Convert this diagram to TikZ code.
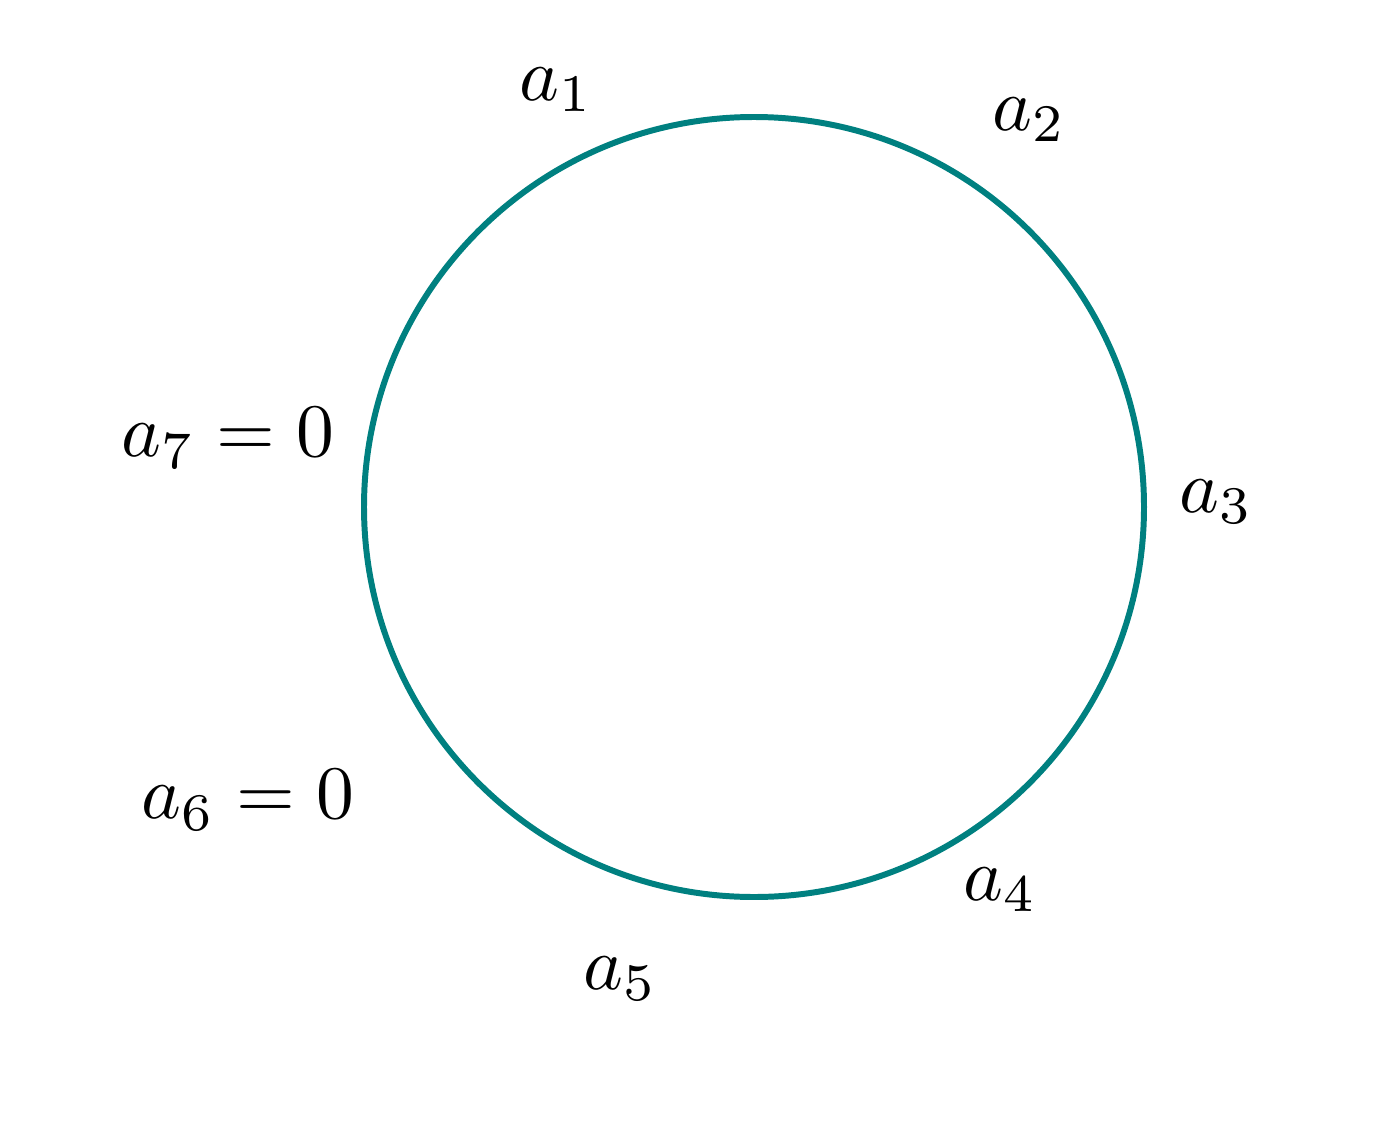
\documentclass[tikz,border=0pt]{standalone}
\usepackage{amsmath}
\definecolor{ringteal}{RGB}{0,128,128}
\begin{document}
\begin{tikzpicture}[
  lbl/.style={inner sep=0pt, scale=2.15},
  ring/.style={draw=ringteal, line width=1.7pt}
]
\useasboundingbox (0,0) rectangle (13.77,11.42);
\node[ring, circle, minimum size=7.80cm, inner sep=0pt] (c) at (7.54,6.35) {};
\node[lbl] (a1) at (5.56,10.52) {$a_1$};
\node[lbl] (a2) at (10.29,10.22) {$a_2$};
\node[lbl] (a3) at (12.16,6.40) {$a_3$};
\node[lbl] (a4) at (10.00,2.52) {$a_4$};
\node[lbl] (a5) at (6.20,1.63) {$a_5$};
\node[lbl] (a6) at (2.48,3.42) {$a_6=0$};
\node[lbl] (a7) at (2.28,7.04) {$a_7=0$};
\end{tikzpicture}
\end{document}
